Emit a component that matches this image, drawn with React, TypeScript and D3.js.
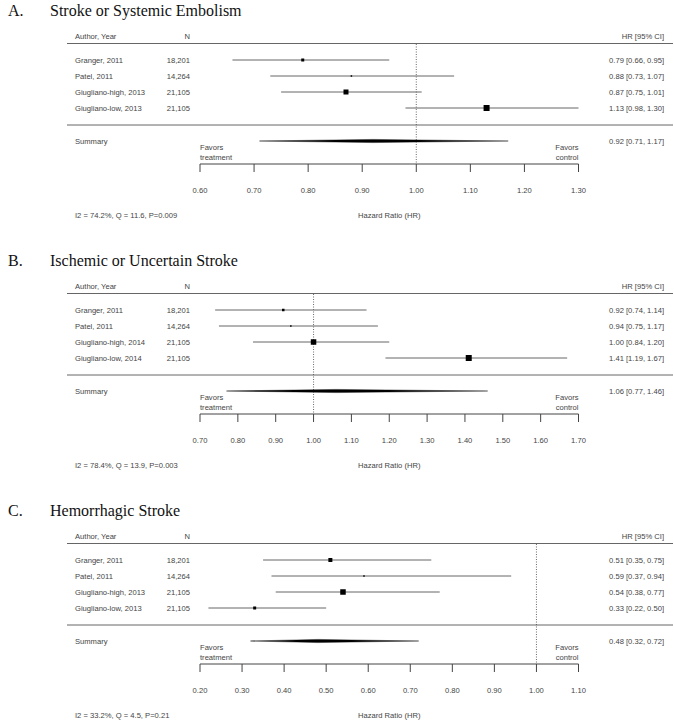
import React from "react";
import * as d3 from "d3";

const studies = ["Granger, 2011", "Patel, 2011", "Giugliano-high, 2013", "Giugliano-low, 2013"];
const studiesB = ["Granger, 2011", "Patel, 2011", "Giugliano-high, 2014", "Giugliano-low, 2014"];
const sampleN = ["18,201", "14,264", "21,105", "21,105"];

const titlesLetter = ["A.", "B.", "C."];
const titles = ["Stroke or Systemic Embolism", "Ischemic or Uncertain Stroke", "Hemorrhagic Stroke"];

const hrA = [0.79, 0.88, 0.87, 1.13];
const loA = [0.66, 0.73, 0.75, 0.98];
const hiA = [0.95, 1.07, 1.01, 1.3];
const wA = [3, 1.5, 5, 6];
const sumA = [0.92, 0.71, 1.17];
const ticksA = [0.6, 0.7, 0.8, 0.9, 1.0, 1.1, 1.2, 1.3];
const statsA = "I2 = 74.2%, Q = 11.6, P=0.009";

const hrB = [0.92, 0.94, 1.0, 1.41];
const loB = [0.74, 0.75, 0.84, 1.19];
const hiB = [1.14, 1.17, 1.2, 1.67];
const wB = [2.5, 1.5, 5.5, 6];
const sumB = [1.06, 0.77, 1.46];
const ticksB = [0.7, 0.8, 0.9, 1.0, 1.1, 1.2, 1.3, 1.4, 1.5, 1.6, 1.7];
const statsB = "I2 = 78.4%, Q = 13.9, P=0.003";

const hrC = [0.51, 0.59, 0.54, 0.33];
const loC = [0.35, 0.37, 0.38, 0.22];
const hiC = [0.75, 0.94, 0.77, 0.5];
const wC = [4, 1.5, 5.5, 3];
const sumC = [0.48, 0.32, 0.72];
const ticksC = [0.2, 0.3, 0.4, 0.5, 0.6, 0.7, 0.8, 0.9, 1.0, 1.1];
const statsC = "I2 = 33.2%, Q = 4.5, P=0.21";

const panels = [
  { names: studies, hr: hrA, lo: loA, hi: hiA, w: wA, sum: sumA, ticks: ticksA, stats: statsA },
  { names: studiesB, hr: hrB, lo: loB, hi: hiB, w: wB, sum: sumB, ticks: ticksB, stats: statsB },
  { names: studies, hr: hrC, lo: loC, hi: hiC, w: wC, sum: sumC, ticks: ticksC, stats: statsC },
];

const SANS = "'Liberation Sans', Arial, sans-serif";
const SERIF = "'Liberation Serif', 'Times New Roman', serif";
const TXT = "#444";
const FS = 7.6;

function Panel({ p, i }: { p: any; i: number }) {
  const oy = i * 250;
  const x = d3.scaleLinear().domain([p.ticks[0], p.ticks[p.ticks.length - 1]]).range([200, 578.5]);
  const rowY = d3.scaleLinear().domain([0, 1]).range([60, 76]);
  const size = d3.scaleLinear().domain([0, 1]).range([0, 1]);
  const f = d3.format(".2f");
  const ci = (h: number, l: number, u: number) => `${f(h)} [${f(l)}, ${f(u)}]`;
  const t = (y: number) => y + 2.7;
  const diamond = d3.line()([
    [x(p.sum[1]), 141],
    [x(p.sum[0]), 139.4],
    [x(p.sum[2]), 141],
    [x(p.sum[0]), 142.6],
    [x(p.sum[1]), 141],
  ]);
  return (
    <g transform={`translate(0,${oy})`}>
      <text x={8} y={15.5} fontFamily={SERIF} fontSize={16} fill="#111">{titlesLetter[i]}</text>
      <text x={50} y={15.5} fontFamily={SERIF} fontSize={16} fill="#111">{titles[i]}</text>

      <text x={75} y={t(36.5)} fontFamily={SANS} fontSize={FS} fill={TXT}>Author, Year</text>
      <text x={190} y={t(36.5)} fontFamily={SANS} fontSize={FS} fill={TXT} textAnchor="end">N</text>
      <text x={664} y={t(36.5)} fontFamily={SANS} fontSize={FS} fill={TXT} textAnchor="end">HR [95% CI]</text>
      <line x1={67} x2={673} y1={43.5} y2={43.5} stroke="#666" strokeWidth={1} />
      <line x1={67} x2={673} y1={125} y2={125} stroke="#666" strokeWidth={1} />

      <line x1={x(1)} x2={x(1)} y1={44} y2={164} stroke="#444" strokeWidth={0.8} strokeDasharray="1,1.5" />

      {p.names.map((n: string, k: number) => {
        const y = rowY(k);
        const s = size(p.w[k]);
        return (
          <g key={k}>
            <text x={75} y={t(y)} fontFamily={SANS} fontSize={FS} fill={TXT}>{n}</text>
            <text x={190} y={t(y)} fontFamily={SANS} fontSize={FS} fill={TXT} textAnchor="end">{sampleN[k]}</text>
            <text x={664} y={t(y)} fontFamily={SANS} fontSize={FS} fill={TXT} textAnchor="end">{ci(p.hr[k], p.lo[k], p.hi[k])}</text>
            <line x1={x(p.lo[k])} x2={x(p.hi[k])} y1={y} y2={y} stroke="#666" strokeWidth={1} />
            <rect x={x(p.hr[k]) - s / 2} y={y - s / 2} width={s} height={s} fill="#000" />
          </g>
        );
      })}

      <text x={75} y={t(141)} fontFamily={SANS} fontSize={FS} fill={TXT}>Summary</text>
      <text x={664} y={t(141)} fontFamily={SANS} fontSize={FS} fill={TXT} textAnchor="end">{ci(p.sum[0], p.sum[1], p.sum[2])}</text>
      <path d={diamond as string} fill="#000" stroke="#000" strokeWidth={0.4} />

      <text x={200} y={t(147.5)} fontFamily={SANS} fontSize={FS} fill={TXT}>Favors</text>
      <text x={200} y={t(157)} fontFamily={SANS} fontSize={FS} fill={TXT}>treatment</text>
      <text x={578.5} y={t(147.5)} fontFamily={SANS} fontSize={FS} fill={TXT} textAnchor="end">Favors</text>
      <text x={578.5} y={t(157)} fontFamily={SANS} fontSize={FS} fill={TXT} textAnchor="end">control</text>

      <line x1={x.range()[0]} x2={x.range()[1]} y1={164} y2={164} stroke="#444" strokeWidth={1} />
      {p.ticks.map((v: number) => (
        <g key={v}>
          <line x1={x(v)} x2={x(v)} y1={164} y2={172} stroke="#444" strokeWidth={1} />
          <text x={x(v)} y={t(190.5)} fontFamily={SANS} fontSize={FS} fill={TXT} textAnchor="middle">{f(v)}</text>
        </g>
      ))}

      <text x={75} y={t(215)} fontFamily={SANS} fontSize={FS} fill={TXT}>{p.stats}</text>
      <text x={(x.range()[0] + x.range()[1]) / 2} y={t(215)} fontFamily={SANS} fontSize={FS} fill={TXT} textAnchor="middle">Hazard Ratio (HR)</text>
    </g>
  );
}

export default function App() {
  return (
    <svg width={674} height={721} style={{ position: "absolute", left: 0, top: 0, background: "#fff" }}>
      <rect width={674} height={721} fill="#fff" />
      {panels.map((p, i) => (
        <Panel key={i} p={p} i={i} />
      ))}
    </svg>
  );
}
